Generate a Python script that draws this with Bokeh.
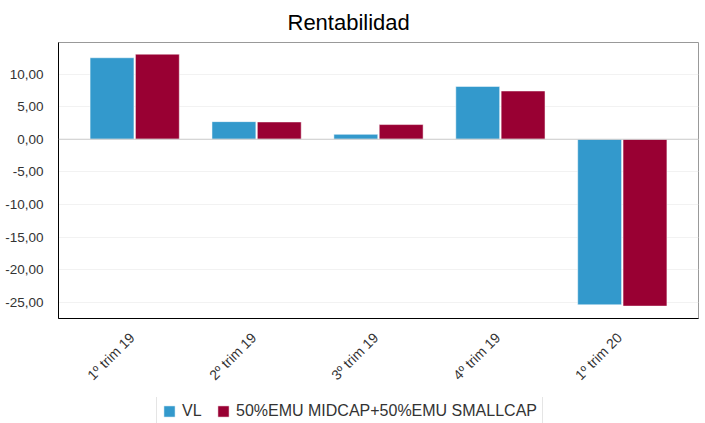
from bokeh.plotting import figure
from bokeh.layouts import column
from bokeh.models import (ColumnDataSource, FactorRange, FixedTicker, CustomJSTickFormatter,
                          Legend, LegendItem, Span, Range1d)
from bokeh.transform import dodge
from bokeh.embed import file_html
from bokeh.resources import INLINE
from math import pi

categories = ["1º trim  19", "2º trim  19", "3º trim  19", "4º trim  19", "1º trim  20"]
vl = [12.5, 2.7, 0.75, 8.1, -25.4]
bench = [13.05, 2.65, 2.25, 7.4, -25.6]
y_ticks = [-25, -20, -15, -10, -5, 0, 5, 10]
series_names = ["VL", "50%EMU MIDCAP+50%EMU SMALLCAP"]
colors = ["#3399cc", "#990033"]

FONT = "Liberation Sans"
source = ColumnDataSource(data=dict(cat=categories, vl=vl, bench=bench))

p = figure(width=705, height=397, output_backend="svg", toolbar_location=None,
           x_range=FactorRange(factors=categories, range_padding=0.125,
                               range_padding_units="absolute"),
           y_range=Range1d(-27.5, 14.84))
p.min_border_left = 58
p.min_border_right = 7
p.min_border_top = 41
p.min_border_bottom = 79

p.title.text = "Rentabilidad"
p.title.text_font = FONT
p.title.text_font_size = "22px"
p.title.text_font_style = "normal"
p.title.align = "left"
p.title.offset = 229
p.title.standoff = 15
p.title.text_color = "#000000"

p.vbar(x=dodge("cat", -0.186, range=p.x_range), top="vl", width=0.36, source=source,
       fill_color=colors[0], line_color="#ffffff", line_alpha=0.5, line_width=1)
p.vbar(x=dodge("cat", 0.186, range=p.x_range), top="bench", width=0.36, source=source,
       fill_color=colors[1], line_color="#ffffff", line_alpha=0.5, line_width=1)

p.add_layout(Span(location=0, dimension="width", line_color="#cccccc", line_width=1))

p.yaxis.ticker = FixedTicker(ticks=y_ticks)
p.yaxis.formatter = CustomJSTickFormatter(code="return tick.toFixed(2).replace('.', ',');")
p.yaxis.major_tick_line_color = None
p.yaxis.minor_tick_line_color = None
p.yaxis.major_label_standoff = 9
p.yaxis.axis_line_color = "#000000"
p.yaxis.major_label_text_font = FONT
p.yaxis.major_label_text_font_size = "13.5px"
p.yaxis.major_label_text_color = "#333333"

p.xaxis.major_label_orientation = pi / 4
p.xaxis.major_tick_line_color = None
p.xaxis.minor_tick_line_color = None
p.xaxis.axis_line_color = "#000000"
p.xaxis.major_label_text_font = FONT
p.xaxis.major_label_text_font_size = "14px"
p.xaxis.major_label_text_color = "#333333"
p.xaxis.major_label_standoff = 8

p.xgrid.grid_line_color = None
p.ygrid.grid_line_color = "#f2f2f2"
p.ygrid.ticker = FixedTicker(ticks=y_ticks)
p.outline_line_color = "#999999"

# legend strip below the chart (stub renderers lie outside the visible range)
lg = figure(width=705, height=26, output_backend="svg", toolbar_location=None,
            x_axis_type=None, y_axis_type=None, x_range=Range1d(0, 1), y_range=Range1d(0, 1))
lg.min_border_left = 0
lg.min_border_right = 0
lg.min_border_top = 0
lg.min_border_bottom = 0
lg.outline_line_color = None
lg.xgrid.grid_line_color = None
lg.ygrid.grid_line_color = None
stub = ColumnDataSource(data=dict(x=[-5], top=[-5]))
d1 = lg.vbar(x="x", top="top", width=0.1, source=stub, fill_color=colors[0],
             line_color="#ffffff", line_alpha=0.5)
d2 = lg.vbar(x="x", top="top", width=0.1, source=stub, fill_color=colors[1],
             line_color="#ffffff", line_alpha=0.5)
legend = Legend(items=[LegendItem(label=series_names[0], renderers=[d1]),
                       LegendItem(label=series_names[1], renderers=[d2])],
                orientation="horizontal", location=(98, -4))
legend.label_text_font = FONT
legend.label_text_font_size = "16px"
legend.label_text_color = "#333333"
legend.glyph_width = 14
legend.glyph_height = 14
legend.label_standoff = 6
legend.spacing = 14
legend.padding = 5
legend.margin = 0
legend.border_line_color = "#cccccc"
legend.label_height = 20
lg.add_layout(legend, "center")

layout = column(p, lg, spacing=0)
open("out.html", "w").write(file_html(layout, INLINE))
